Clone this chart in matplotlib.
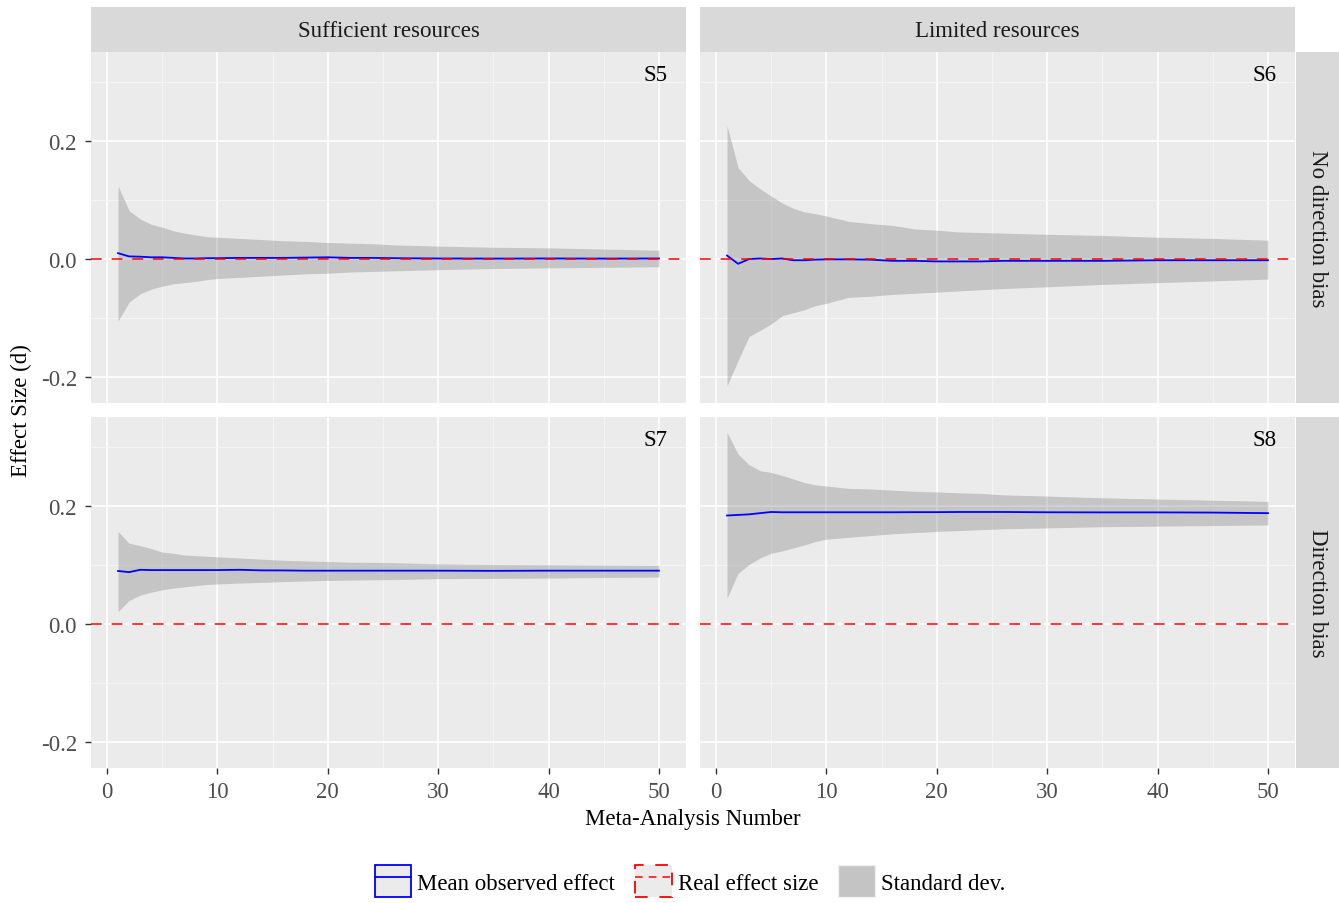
import matplotlib
matplotlib.use("Agg")
import matplotlib.pyplot as plt
from matplotlib.patches import Patch
from matplotlib.lines import Line2D
from matplotlib.legend_handler import HandlerTuple

plt.rcParams['font.family'] = ['Liberation Serif', 'DejaVu Serif']

# ---- data ----
meta_n = [1, 2, 3, 4, 5, 6, 7, 8, 9, 10, 12, 14, 16, 18, 20, 22, 24, 26, 30, 35, 40, 45, 50]

s5_upper = [.124, .082, .068, .059, .054, .048, .044, .041, .038, .037, .035, .033, .031, .030,
            .028, .027, .026, .024, .022, .020, .019, .017, .015]
s5_lower = [-.105, -.073, -.059, -.051, -.046, -.042, -.040, -.038, -.035, -.033, -.031, -.029,
            -.027, -.025, -.024, -.022, -.021, -.020, -.018, -.016, -.015, -.014, -.013]
s5_mean = [.010, .0045, .004, .003, .003, .002, .001, .001, .0015, .0015, .002, .002, .002,
           .0025, .003, .002, .002, .0015, .001, .0008, .001, .0008, .001]

s6_upper = [.226, .155, .133, .119, .107, .095, .086, .080, .077, .073, .064, .060, .057, .051,
            .049, .046, .045, .044, .042, .040, .037, .035, .032]
s6_lower = [-.215, -.172, -.131, -.121, -.110, -.096, -.091, -.086, -.079, -.075, -.065, -.063,
            -.060, -.058, -.056, -.054, -.052, -.050, -.047, -.043, -.040, -.037, -.034]
s6_mean = [.006, -.008, .000, .001, .000, .001, -.002, -.002, -.001, -.0005, -.0005, -.001,
           -.003, -.003, -.004, -.004, -.004, -.003, -.003, -.003, -.002, -.002, -.002]

s7_upper = [.157, .137, .133, .128, .122, .120, .117, .116, .115, .114, .112, .110, .108, .107,
            .106, .105, .1045, .104, .102, .101, .1005, .100, .0995]
s7_lower = [.021, .040, .049, .054, .058, .061, .063, .065, .067, .068, .0695, .0706, .072, .073,
            .074, .0745, .075, .0755, .077, .0775, .078, .079, .0797]
s7_mean = [.090, .088, .092, .0915, .0915, .0915, .0915, .0915, .0915, .0915, .092, .091, .0909,
           .0905, .0905, .0905, .0905, .0905, .0905, .0902, .0905, .0905, .0905]

s8_upper = [.325, .288, .270, .260, .257, .252, .246, .240, .236, .234, .230, .229, .227, .225,
            .224, .2225, .2215, .219, .217, .214, .212, .210, .208]
s8_lower = [.044, .086, .101, .112, .120, .124, .129, .134, .140, .144, .147, .150, .153, .155,
            .157, .1585, .160, .1615, .163, .165, .166, .167, .168]
s8_mean = [.184, .185, .186, .188, .190, .1895, .1895, .1895, .1895, .1895, .1895, .1895, .1895,
           .1897, .1897, .190, .190, .190, .1895, .1893, .1893, .189, .188]

real_effect = [0.0, 0.0, 0.0, 0.0]
scenarios = ['S5', 'S6', 'S7', 'S8']
col_labels = ['Sufficient resources', 'Limited resources']
row_labels = ['No direction bias', 'Direction bias']

uppers = [s5_upper, s6_upper, s7_upper, s8_upper]
lowers = [s5_lower, s6_lower, s7_lower, s8_lower]
means = [s5_mean, s6_mean, s7_mean, s8_mean]

# ---- layout (pixel based, ggplot facet_grid look) ----
W, H = 1339, 904
FS = 16.5
PANEL_BG = '#EBEBEB'
STRIP_BG = '#D9D9D9'
RIBBON = '#6E6E6E'

fig = plt.figure(figsize=(W / 100, H / 100), dpi=100)

def px_axes(x0, y0, x1, y1):
    return fig.add_axes([x0 / W, 1 - y1 / H, (x1 - x0) / W, (y1 - y0) / H])

col_x = [(91, 686), (700, 1295)]
row_y = [(53, 404), (418, 769)]

axes = []
for r in range(2):
    for c in range(2):
        ax = px_axes(col_x[c][0], row_y[r][0], col_x[c][1], row_y[r][1])
        axes.append(ax)

for i, ax in enumerate(axes):
    r, c = divmod(i, 2)
    ax.set_facecolor(PANEL_BG)
    for s in ax.spines.values():
        s.set_visible(False)
    ax.set_axisbelow(True)
    ax.set_xlim(-1.45, 52.45)
    ax.set_ylim(-0.244, 0.351)
    ax.set_xticks([0, 10, 20, 30, 40, 50])
    ax.set_xticks([5, 15, 25, 35, 45], minor=True)
    ax.set_yticks([-0.2, 0.0, 0.2])
    ax.set_yticks([-0.1, 0.1, 0.3], minor=True)
    ax.grid(which='major', color='white', lw=1.2)
    ax.grid(which='minor', color='#F6F6F6', lw=0.6)
    ax.tick_params(which='major', length=4, width=1, color='#333333',
                   labelsize=FS, labelcolor='#4D4D4D')
    ax.tick_params(axis='y', which='major', pad=6)
    ax.tick_params(axis='x', which='major', pad=5.5)
    ax.tick_params(which='minor', length=0)
    if c == 0:
        ax.set_yticklabels(['-0.2', '0.0', '0.2'])
    else:
        ax.tick_params(axis='y', which='major', length=0, labelleft=False)
    if r == 1:
        ax.set_xticklabels([str(v) for v in [0, 10, 20, 30, 40, 50]])
    else:
        ax.tick_params(axis='x', which='major', length=0, labelbottom=False)

    ax.fill_between(meta_n, lowers[i], uppers[i], color=RIBBON, alpha=0.3, lw=0, zorder=2)
    ax.plot(meta_n, means[i], color='#0000FF', lw=1.3, zorder=3)
    ax.axhline(real_effect[i], color='#FF0000', lw=1.1, dashes=(7, 6.5), zorder=4)
    ax.text(49.7, 0.313, scenarios[i], ha='center', va='center', fontsize=FS, color='black')

# strips
for c in range(2):
    sax = px_axes(col_x[c][0], 8, col_x[c][1], 53)
    sax.set_facecolor(STRIP_BG)
    sax.set_xticks([]); sax.set_yticks([])
    for s in sax.spines.values():
        s.set_visible(False)
    sax.text(0.5, 0.47, col_labels[c], ha='center', va='center', fontsize=FS,
             color='#1A1A1A', transform=sax.transAxes)
for r in range(2):
    sax = px_axes(1296, row_y[r][0], 1339, row_y[r][1])
    sax.set_facecolor(STRIP_BG)
    sax.set_xticks([]); sax.set_yticks([])
    for s in sax.spines.values():
        s.set_visible(False)
    sax.text(0.5, 0.5, row_labels[r], ha='center', va='center', fontsize=FS,
             color='#1A1A1A', rotation=-90, transform=sax.transAxes)

fig.text(693 / W, 1 - 820 / H, 'Meta-Analysis Number', ha='center', va='center', fontsize=FS)
fig.text(21 / W, 1 - 411 / H, 'Effect Size (d)', ha='center', va='center',
         fontsize=FS, rotation=90)

handles = [
    (Patch(facecolor=PANEL_BG, edgecolor='#0000FF', lw=1.3),
     Line2D([], [], color='#0000FF', lw=1.3)),
    (Patch(facecolor=PANEL_BG, edgecolor='#FF0000', lw=1.3, linestyle=(0, (7, 6.5))),
     Line2D([], [], color='#FF0000', lw=1.1, dashes=(5, 4))),
    Patch(facecolor='#C4C4C4', edgecolor='#F0F0F0', lw=1),
]
labels = ['Mean observed effect', 'Real effect size', 'Standard dev.']
fig.legend(handles, labels, loc='lower center', bbox_to_anchor=(690 / W, -0.006),
           ncol=3, frameon=False, fontsize=FS, handlelength=1.6, handleheight=1.75,
           handletextpad=0.26, columnspacing=0.87, borderpad=0.0,
           handler_map={tuple: HandlerTuple(ndivide=1, pad=0)})

fig.savefig('out.png', dpi=100, facecolor='white')
